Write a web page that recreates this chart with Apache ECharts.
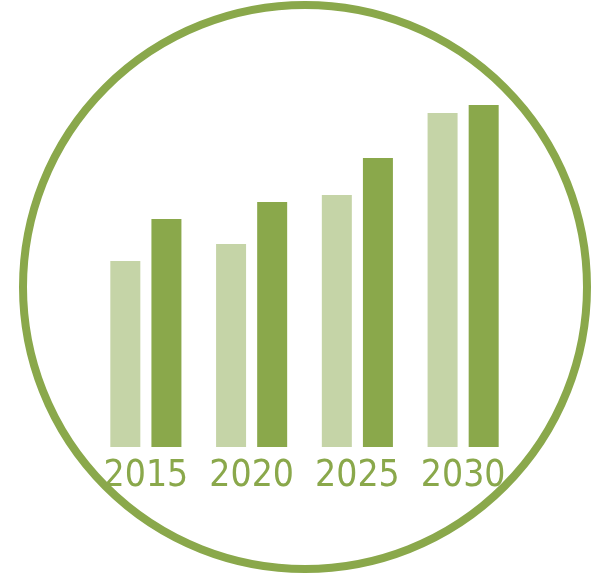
<!DOCTYPE html>
<html>
<head>
<meta charset="utf-8">
<script src="https://cdn.jsdelivr.net/npm/echarts@6/dist/echarts.min.js"></script>
<style>
html,body{margin:0;padding:0;background:#fff;}
#chart{width:600px;height:579px;}
</style>
</head>
<body>
<div id="chart"></div>
<script>
var categories = ['2015', '2020', '2025', '2030'];
var seriesLight = [186, 203, 252, 334];
var seriesDark = [228, 245, 289, 342];

var chart = echarts.init(document.getElementById('chart'), null, {renderer: 'canvas'});
chart.setOption({
  animation: false,
  backgroundColor: '#ffffff',
  graphic: [{
    type: 'circle',
    shape: {cx: 305, cy: 287, r: 282},
    style: {fill: 'none', stroke: '#8aa84b', lineWidth: 8},
    silent: true
  }],
  grid: {left: 93, right: 84, top: 47, bottom: 132},
  xAxis: {
    type: 'category',
    data: categories,
    axisLine: {show: false},
    axisTick: {show: false},
    axisLabel: {
      interval: 0,
      hideOverlap: false,
      color: '#8aa84b',
      fontFamily: '"DejaVu Sans Condensed", sans-serif',
      fontSize: 37,
      margin: 11
    }
  },
  yAxis: {
    type: 'value',
    min: 0,
    max: 400,
    show: false,
    splitLine: {show: false}
  },
  series: [
    {type: 'bar', data: seriesLight, barWidth: 30, barGap: '37%', itemStyle: {color: '#c5d4a7'}},
    {type: 'bar', data: seriesDark, barWidth: 30, barGap: '37%', itemStyle: {color: '#8aa84b'}}
  ]
});
</script>
</body>
</html>
